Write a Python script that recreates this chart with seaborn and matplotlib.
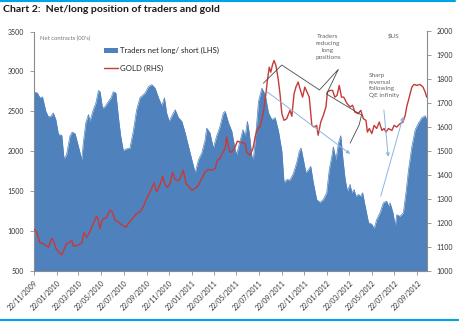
import matplotlib
matplotlib.use("Agg")
import matplotlib.pyplot as plt
import matplotlib.dates as mdates
from matplotlib.patches import Patch
from matplotlib.lines import Line2D
import seaborn as sns
import pandas as pd

# ---------------- data ----------------
traders_dates = [
    "2009-11-22", "2009-12-01", "2009-12-08", "2009-12-15", "2009-12-24", "2009-12-31",
    "2010-01-07", "2010-01-13", "2010-01-20", "2010-01-27", "2010-02-05", "2010-02-11",
    "2010-02-18", "2010-02-27", "2010-03-05", "2010-03-13", "2010-03-22", "2010-03-31",
    "2010-04-04", "2010-04-11", "2010-04-18", "2010-04-22", "2010-05-01", "2010-05-08",
    "2010-05-15", "2010-05-19", "2010-05-26", "2010-06-02", "2010-06-11", "2010-06-18",
    "2010-06-24", "2010-07-01", "2010-07-08", "2010-07-14", "2010-07-21", "2010-07-30",
    "2010-08-08", "2010-08-17", "2010-08-26", "2010-09-04", "2010-09-18", "2010-09-27",
    "2010-10-06", "2010-10-15", "2010-10-24", "2010-11-02", "2010-11-09", "2010-11-15",
    "2010-11-22", "2010-12-01", "2010-12-08", "2010-12-17", "2010-12-26", "2011-01-04",
    "2011-01-13", "2011-01-22", "2011-01-31", "2011-02-09", "2011-02-18", "2011-02-27",
    "2011-03-03", "2011-03-12", "2011-03-21", "2011-03-30", "2011-04-08", "2011-04-17",
    "2011-04-22", "2011-05-01", "2011-05-10", "2011-05-19", "2011-05-23", "2011-06-01",
    "2011-06-09", "2011-06-15", "2011-06-21", "2011-06-26", "2011-07-03", "2011-07-07",
    "2011-07-14", "2011-07-21", "2011-07-30", "2011-08-08", "2011-08-17", "2011-08-26",
    "2011-09-04", "2011-09-13", "2011-09-22", "2011-09-28", "2011-10-05", "2011-10-14",
    "2011-10-23", "2011-11-01", "2011-11-08", "2011-11-13", "2011-11-19", "2011-11-26",
    "2011-12-03", "2011-12-09", "2011-12-16", "2011-12-25", "2012-01-03", "2012-01-12",
    "2012-01-21", "2012-01-28", "2012-02-04", "2012-02-08", "2012-02-15", "2012-02-22",
    "2012-02-28", "2012-03-05", "2012-03-11", "2012-03-17", "2012-03-24", "2012-03-29",
    "2012-04-04", "2012-04-09", "2012-04-16", "2012-04-22", "2012-04-27", "2012-05-04",
    "2012-05-13", "2012-05-22", "2012-05-28", "2012-06-04", "2012-06-13", "2012-06-22",
    "2012-07-01", "2012-07-06", "2012-07-10", "2012-07-18", "2012-07-24", "2012-07-28",
    "2012-08-06", "2012-08-15", "2012-08-22", "2012-08-29", "2012-09-07", "2012-09-16",
    "2012-09-25", "2012-10-04", "2012-10-13", "2012-10-17",
]
traders_net = [
    2743, 2730, 2670, 2680, 2500, 2430,
    2440, 2480, 2395, 2210, 2200, 1905,
    1960, 2190, 2240, 2220, 2060, 1895,
    2105, 2360, 2460, 2375, 2520, 2605,
    2760, 2750, 2540, 2560, 2625, 2670,
    2745, 2730, 2420, 2190, 2010, 2030,
    2040, 2250, 2520, 2670, 2730, 2810,
    2835, 2790, 2670, 2570, 2670, 2480,
    2375, 2460, 2520, 2420, 2375, 2230,
    2060, 1895, 1730, 1895, 1980, 2145,
    2290, 2230, 2040, 2190, 2310, 2480,
    2500, 2355, 2250, 2020, 1960, 2125,
    2270, 2190, 2375, 2230, 1940, 1895,
    2230, 2625, 2790, 2710, 2480, 2395,
    2420, 2250, 2000, 1605, 1645, 1640,
    1720, 1855, 2000, 2040, 1895, 1730,
    1770, 1810, 1605, 1395, 1360, 1395,
    1480, 1770, 1940, 2055, 1895, 2105,
    2195, 1895, 1645, 1500, 1585, 1480,
    1520, 1435, 1460, 1435, 1480, 1310,
    1105, 1085, 1030, 1145, 1230, 1355,
    1375, 1310, 1355, 1230, 1060, 1205,
    1185, 1230, 1480, 1770, 2060, 2270,
    2355, 2420, 2445, 2395,
]

gold_dates = [
    "2009-11-22", "2009-11-29", "2009-12-08", "2009-12-17", "2009-12-31", "2010-01-09",
    "2010-01-13", "2010-01-20", "2010-01-27", "2010-02-05", "2010-02-18", "2010-02-25",
    "2010-03-04", "2010-03-08", "2010-03-22", "2010-03-31", "2010-04-06", "2010-04-13",
    "2010-04-22", "2010-05-01", "2010-05-10", "2010-05-15", "2010-05-19", "2010-05-26",
    "2010-06-06", "2010-06-15", "2010-06-20", "2010-06-29", "2010-07-05", "2010-07-14",
    "2010-07-28", "2010-08-04", "2010-08-13", "2010-08-24", "2010-09-04", "2010-09-13",
    "2010-09-22", "2010-10-03", "2010-10-12", "2010-10-19", "2010-10-28", "2010-11-04",
    "2010-11-11", "2010-11-17", "2010-11-24", "2010-12-01", "2010-12-08", "2010-12-17",
    "2010-12-23", "2010-12-30", "2011-01-06", "2011-01-13", "2011-01-22", "2011-01-31",
    "2011-02-09", "2011-02-18", "2011-02-27", "2011-03-08", "2011-03-17", "2011-03-26",
    "2011-04-01", "2011-04-08", "2011-04-15", "2011-04-22", "2011-04-26", "2011-05-01",
    "2011-05-05", "2011-05-10", "2011-05-19", "2011-05-25", "2011-06-01", "2011-06-09",
    "2011-06-15", "2011-06-19", "2011-06-28", "2011-07-06", "2011-07-12", "2011-07-18",
    "2011-07-25", "2011-08-03", "2011-08-10", "2011-08-14", "2011-08-19", "2011-08-23",
    "2011-08-28", "2011-09-01", "2011-09-06", "2011-09-12", "2011-09-17", "2011-09-22",
    "2011-09-28", "2011-10-05", "2011-10-14", "2011-10-19", "2011-10-25", "2011-10-30",
    "2011-11-05", "2011-11-10", "2011-11-17", "2011-11-23", "2011-11-29", "2011-12-05",
    "2011-12-12", "2011-12-18", "2011-12-25", "2011-12-29", "2012-01-05", "2012-01-12",
    "2012-01-19", "2012-01-23", "2012-01-30", "2012-02-06", "2012-02-12", "2012-02-18",
    "2012-02-24", "2012-03-01", "2012-03-07", "2012-03-16", "2012-03-24", "2012-03-31",
    "2012-04-06", "2012-04-15", "2012-04-22", "2012-04-29", "2012-05-06", "2012-05-10",
    "2012-05-15", "2012-05-22", "2012-05-28", "2012-06-04", "2012-06-11", "2012-06-18",
    "2012-06-24", "2012-06-29", "2012-07-06", "2012-07-15", "2012-07-21", "2012-07-28",
    "2012-08-06", "2012-08-14", "2012-08-20", "2012-08-24", "2012-08-31", "2012-09-07",
    "2012-09-13", "2012-09-20", "2012-09-29", "2012-10-07", "2012-10-13", "2012-10-17",
]
gold_usd = [
    1174, 1164, 1118, 1115, 1099, 1136,
    1129, 1095, 1080, 1067, 1115, 1118,
    1129, 1104, 1108, 1118, 1160, 1140,
    1164, 1199, 1229, 1212, 1178, 1215,
    1224, 1254, 1250, 1212, 1208, 1196,
    1182, 1199, 1215, 1237, 1247, 1268,
    1303, 1337, 1368, 1330, 1360, 1395,
    1360, 1349, 1363, 1411, 1382, 1376,
    1393, 1421, 1365, 1354, 1337, 1345,
    1358, 1386, 1414, 1424, 1421, 1428,
    1462, 1470, 1493, 1511, 1560, 1518,
    1497, 1497, 1518, 1542, 1539, 1535,
    1532, 1497, 1483, 1511, 1560, 1595,
    1601, 1660, 1740, 1796, 1851, 1830,
    1862, 1879, 1858, 1803, 1740, 1657,
    1629, 1636, 1671, 1646, 1740, 1768,
    1789, 1761, 1726, 1768, 1747, 1726,
    1608, 1601, 1608, 1567, 1622, 1650,
    1685, 1747, 1754, 1754, 1726, 1733,
    1775, 1726, 1726, 1699, 1685, 1692,
    1664, 1657, 1671, 1636, 1629, 1580,
    1595, 1574, 1608, 1595, 1622, 1587,
    1595, 1580, 1595, 1587, 1608, 1601,
    1615, 1622, 1650, 1685, 1726, 1768,
    1779, 1775, 1779, 1768, 1747, 1726,
]

x_tick_labels = ["22/11/2009", "22/01/2010", "22/03/2010", "22/05/2010", "22/07/2010",
                 "22/09/2010", "22/11/2010", "22/01/2011", "22/03/2011", "22/05/2011",
                 "22/07/2011", "22/09/2011", "22/11/2011", "22/01/2012", "22/03/2012",
                 "22/05/2012", "22/07/2012", "22/09/2012"]
left_ticks = [500, 1000, 1500, 2000, 2500, 3000, 3500]
right_ticks = [1000, 1100, 1200, 1300, 1400, 1500, 1600, 1700, 1800, 1900, 2000]

title = "Chart 2:  Net/long position of traders and gold"
series_traders = "Traders net long/ short (LHS)"
series_gold = "GOLD (RHS)"

# ---------------- style ----------------
sns.set_theme(style="white")
plt.rcParams["font.family"] = ["Lato", "DejaVu Sans"]

BLUE = "#4F81BD"
RED = "#C63A37"
SPINE = "#8C8C8C"
TXT = "#333333"

df_t = pd.DataFrame({"date": pd.to_datetime(traders_dates), "net": traders_net})
df_g = pd.DataFrame({"date": pd.to_datetime(gold_dates), "gold": gold_usd})

fig = plt.figure(figsize=(4.6, 3.23), dpi=100)
ax1 = fig.add_axes([34 / 460, 1 - 271 / 323, 392.7 / 460, 239.5 / 323])
ax2 = ax1.twinx()

ax1.fill_between(df_t["date"], 500, df_t["net"], color=BLUE, lw=0, zorder=1)
sns.lineplot(data=df_t, x="date", y="net", ax=ax1, color=BLUE, lw=0.5, zorder=2)
sns.lineplot(data=df_g, x="date", y="gold", ax=ax2, color=RED, lw=1.0, zorder=3)

ax1.set_xlim(pd.Timestamp("2009-11-22"), pd.Timestamp("2012-10-17"))
ax1.set_ylim(500, 3500)
ax2.set_ylim(1000, 2000)
ax1.set_yticks(left_ticks)
ax2.set_yticks(right_ticks)
ax1.set_yticklabels([str(v) for v in left_ticks])
ax2.set_yticklabels([str(v) for v in right_ticks])
xt = pd.to_datetime(x_tick_labels, format="%d/%m/%Y")
ax1.set_xticks(xt)
ax1.set_xticklabels(x_tick_labels, rotation=45, ha="right", rotation_mode="anchor")
ax1.set_xlabel("")
ax1.set_ylabel("")
ax2.set_ylabel("")

for ax in (ax1, ax2):
    for s in ax.spines.values():
        s.set_visible(False)
    ax.grid(False)
ax1.spines["left"].set_visible(True)
ax1.spines["bottom"].set_visible(True)
ax2.spines["right"].set_visible(True)
for s in (ax1.spines["left"], ax1.spines["bottom"], ax2.spines["right"]):
    s.set_color(SPINE)
    s.set_linewidth(0.8)

ax1.tick_params(axis="y", left=True, direction="out", length=3, width=0.6,
                color=SPINE, labelsize=5, labelcolor=TXT, pad=4)
ax1.tick_params(axis="x", bottom=True, direction="out", length=3, width=0.6,
                color=SPINE, labelsize=5, labelcolor=TXT, pad=3)
ax2.tick_params(axis="y", right=True, direction="out", length=3, width=0.6,
                color=SPINE, labelsize=5, labelcolor=TXT, pad=4)

# legend
handles = [Patch(facecolor=BLUE, edgecolor="none", label=series_traders),
           Line2D([], [], color=RED, lw=1.0, label=series_gold)]
ax2.legend(handles=handles, loc="upper left", bbox_to_anchor=(0.178, 0.935),
           frameon=False, fontsize=5.6, handlelength=1.8, handleheight=0.55,
           handletextpad=0.25, labelspacing=1.35, borderpad=0, borderaxespad=0,
           labelcolor="#222222")

# annotations (axes fraction)
ann_color = "#8DB4E2"
tr = ax2.transAxes
for (x0, y0), (x1, y1) in [((0.593, 0.749), (0.805, 0.489)),
                           ((0.891, 0.672), (0.902, 0.477)),
                           ((0.883, 0.313), (0.940, 0.644))]:
    ax2.annotate("", xy=(x1, y1), xytext=(x0, y0), xycoords="axes fraction",
                 textcoords="axes fraction",
                 arrowprops=dict(arrowstyle="-|>", color=ann_color, lw=0.7,
                                 mutation_scale=5, shrinkA=0, shrinkB=0),
                 zorder=5)

brace_x = [0.584, 0.631, 0.727, 0.775, 0.745, 0.834, 0.828, 0.805]
brace_y = [0.784, 0.860, 0.756, 0.842, 0.739, 0.651, 0.610, 0.534]
ax2.plot(brace_x, brace_y, transform=tr, color="#4A4A4A", lw=0.6, zorder=6,
         solid_joinstyle="round")

fig.text(40 / 460, 1 - 38 / 323, "Net contracts (00's)", fontsize=4.2,
         color="#777777", ha="left", va="center")
fig.text(328 / 460, 1 - 47 / 323, "Traders\nreducing\nlong\npositions", fontsize=4.6,
         color="#666666", ha="center", va="center", linespacing=1.45)
fig.text(394 / 460, 1 - 36 / 323, "$US", fontsize=4.6, color="#666666",
         ha="center", va="center")
fig.text(369 / 460, 1 - 85.5 / 323, "Sharp\nreversal\nfollowing\nQE infinity",
         fontsize=4.6, color="#666666", ha="left", va="center", linespacing=1.45)

fig.text(3 / 460, 1 - 9.5 / 323, title, fontsize=7.55, fontweight="bold",
         color="#1A1A1A", ha="left", va="center")

# frame lines
fig.add_artist(Line2D([0, 0.99], [1 - 1.2 / 323] * 2, transform=fig.transFigure,
                      color="#00A2E8", lw=1.5))
fig.add_artist(Line2D([0, 1], [1 - 319.8 / 323] * 2, transform=fig.transFigure,
                      color="#00A2E8", lw=1.5))

fig.savefig("out.png", dpi=100)
